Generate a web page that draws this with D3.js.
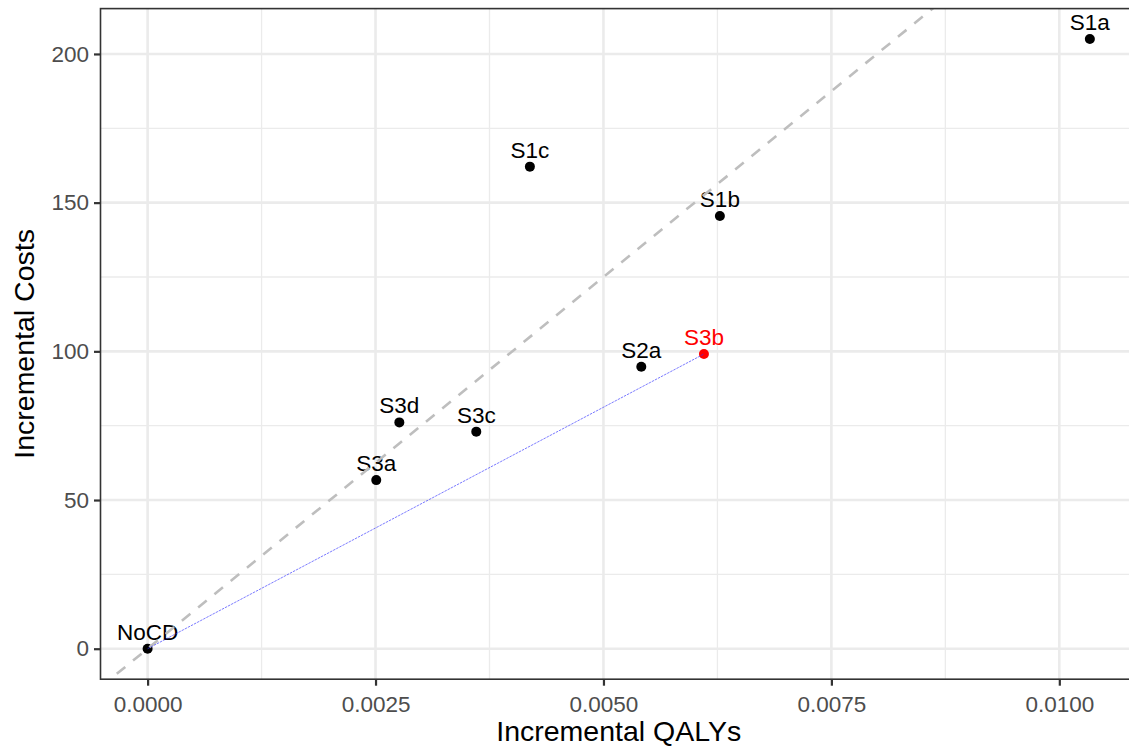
<!DOCTYPE html>
<html>
<head>
<meta charset="utf-8">
<script src="https://cdn.jsdelivr.net/npm/d3@7"></script>
<style>
  html, body { margin: 0; padding: 0; background: #fff; }
  svg { display: block; font-family: "Liberation Sans", Arial, sans-serif; }
</style>
</head>
<body>
<svg id="chart" width="1129" height="747"></svg>
<script>
// ---- data ----
const strategies = ["NoCD", "S3a", "S3d", "S3c", "S1c", "S2a", "S3b", "S1b", "S1a"];
const qalys      = [0, 0.002508, 0.002761, 0.003605, 0.004193, 0.005415, 0.006102, 0.006277, 0.010335];
const costs      = [0, 56.7, 76.1, 73.0, 162.1, 94.8, 99.1, 145.5, 205.0];
const highlighted = ["S3b"];
const frontier   = ["NoCD", "S3b"];
const wtpSlope   = 25000;
const xTicks     = [0, 0.0025, 0.005, 0.0075, 0.01];
const xMinor     = [0.00125, 0.00375, 0.00625, 0.00875];
const yTicks     = [0, 50, 100, 150, 200];
const yMinor     = [25, 75, 125, 175];
const xTitle = "Incremental QALYs";
const yTitle = "Incremental Costs";

const points = strategies.map((s, i) => ({ s, x: qalys[i], y: costs[i] }));

// ggplot-style 5% expansion
const xe = d3.extent(qalys), ye = d3.extent(costs);
const xPad = (xe[1] - xe[0]) * 0.05, yPad = (ye[1] - ye[0]) * 0.05;
const pLeft = 100.5, pTop = 8.6, pBottom = 679.2;
const pxPerX = 91170;
const xDom = [xe[0] - xPad, xe[1] + xPad];
const pRight = pLeft + (xDom[1] - xDom[0]) * pxPerX;

const x = d3.scaleLinear().domain(xDom).range([pLeft, pRight]);
const y = d3.scaleLinear().domain([ye[0] - yPad, ye[1] + yPad]).range([pBottom, pTop]);

const svg = d3.select("#chart");
svg.append("defs").append("clipPath").attr("id", "clip")
  .append("rect").attr("x", pLeft).attr("y", pTop)
  .attr("width", pRight - pLeft).attr("height", pBottom - pTop);

const panel = svg.append("g").attr("clip-path", "url(#clip)");
panel.append("rect").attr("x", pLeft).attr("y", pTop)
  .attr("width", pRight - pLeft).attr("height", pBottom - pTop).attr("fill", "#fff");

// grid
panel.selectAll(".vminor").data(xMinor).join("line")
  .attr("x1", d => x(d)).attr("x2", d => x(d)).attr("y1", pTop).attr("y2", pBottom)
  .attr("stroke", "#EBEBEB").attr("stroke-width", 1.3);
panel.selectAll(".hminor").data(yMinor).join("line")
  .attr("y1", d => y(d)).attr("y2", d => y(d)).attr("x1", pLeft).attr("x2", pRight)
  .attr("stroke", "#EBEBEB").attr("stroke-width", 1.3);
panel.selectAll(".vmajor").data(xTicks).join("line")
  .attr("x1", d => x(d)).attr("x2", d => x(d)).attr("y1", pTop).attr("y2", pBottom)
  .attr("stroke", "#EBEBEB").attr("stroke-width", 2.6);
panel.selectAll(".hmajor").data(yTicks).join("line")
  .attr("y1", d => y(d)).attr("y2", d => y(d)).attr("x1", pLeft).attr("x2", pRight)
  .attr("stroke", "#EBEBEB").attr("stroke-width", 2.6);

// points
panel.selectAll(".pt").data(points).join("circle")
  .attr("cx", d => x(d.x)).attr("cy", d => y(d.y)).attr("r", 5)
  .attr("fill", d => highlighted.includes(d.s) ? "#FF0000" : "#000");

// labels
panel.selectAll(".lbl").data(points).join("text")
  .attr("x", d => x(d.x)).attr("y", d => y(d.y) - 9)
  .attr("text-anchor", "middle").attr("font-size", 22.5)
  .attr("fill", d => highlighted.includes(d.s) ? "#FF0000" : "#000")
  .text(d => d.s);

// WTP dashed line (drawn over labels, as in reference)
panel.append("line")
  .attr("x1", x(xDom[0])).attr("y1", y(xDom[0] * wtpSlope))
  .attr("x2", x(xDom[1])).attr("y2", y(xDom[1] * wtpSlope))
  .attr("stroke", "#BEBEBE").attr("stroke-width", 2.6)
  .attr("stroke-dasharray", "11,10");

// frontier line
const fr = points.filter(p => frontier.includes(p.s));
panel.append("path")
  .attr("d", d3.line().x(d => x(d.x)).y(d => y(d.y))(fr))
  .attr("fill", "none").attr("stroke", "#3030FF").attr("stroke-width", 0.8)
  .attr("stroke-dasharray", "2.5,1").attr("stroke-opacity", 0.8);

// border
svg.append("rect").attr("x", pLeft).attr("y", pTop)
  .attr("width", pRight - pLeft).attr("height", pBottom - pTop)
  .attr("fill", "none").attr("stroke", "#333333").attr("stroke-width", 1.6);

// axes
const fmtX = d3.format(".4f");
const gx = svg.append("g").attr("transform", `translate(0,${pBottom})`)
  .call(d3.axisBottom(x).tickValues(xTicks).tickFormat(fmtX).tickSize(6.5).tickPadding(5));
const gy = svg.append("g").attr("transform", `translate(${pLeft},0)`)
  .call(d3.axisLeft(y).tickValues(yTicks).tickFormat(d3.format("d")).tickSize(6.5).tickPadding(5));
[gx, gy].forEach(g => {
  g.select(".domain").remove();
  g.selectAll(".tick line").attr("stroke", "#333333").attr("stroke-width", 2.2);
  g.selectAll(".tick text").attr("fill", "#4D4D4D").attr("font-size", 22.5)
    .attr("font-family", "Liberation Sans, Arial, sans-serif");
});
gx.selectAll(".tick text").attr("dy", "0.95em");

// titles
svg.append("text").attr("x", (pLeft + pRight) / 2).attr("y", 741)
  .attr("text-anchor", "middle").attr("font-size", 28.5).attr("fill", "#000")
  .text(xTitle);
svg.append("text")
  .attr("transform", `translate(34,${(pTop + pBottom) / 2}) rotate(-90)`)
  .attr("text-anchor", "middle").attr("font-size", 28.5).attr("fill", "#000")
  .text(yTitle);
</script>
</body>
</html>
